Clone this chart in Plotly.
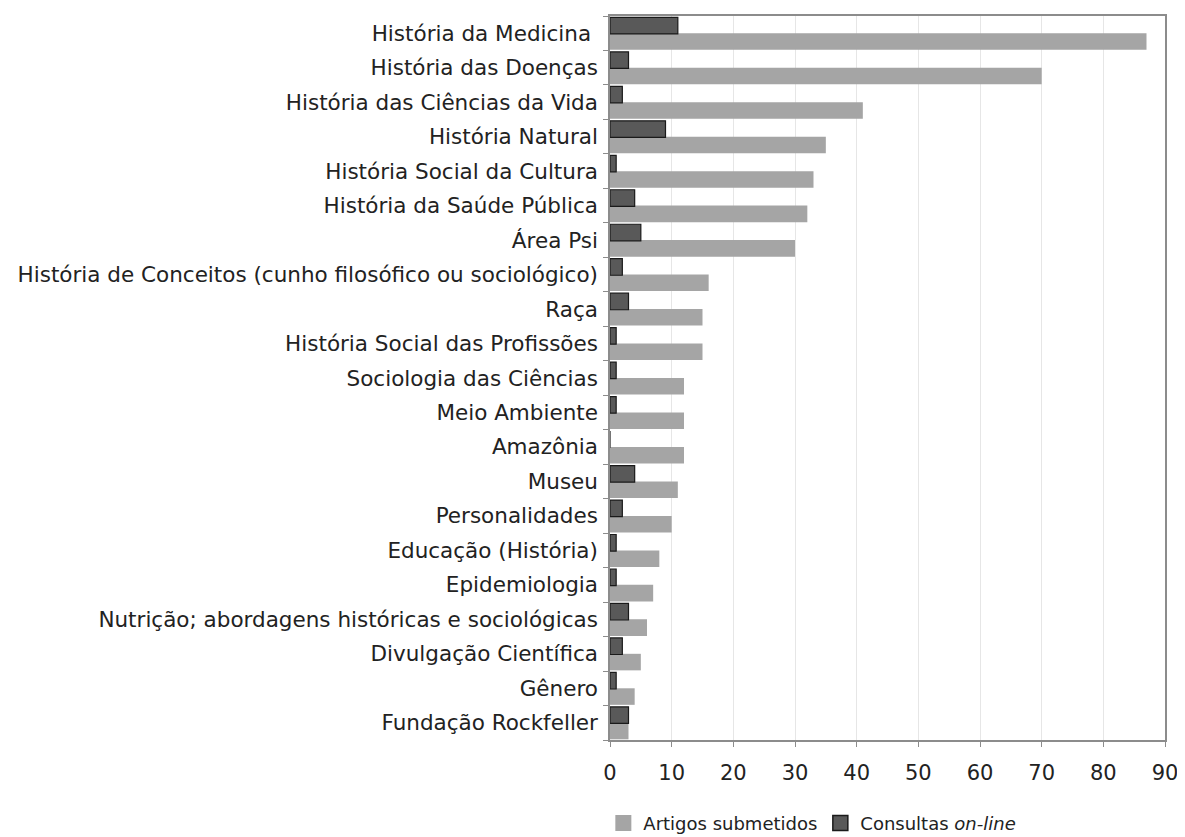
import plotly.graph_objects as go

categories = [
    "História da Medicina",
    "História das Doenças",
    "História das Ciências da Vida",
    "História Natural",
    "História Social da Cultura",
    "História da Saúde Pública",
    "Área Psi",
    "História de Conceitos (cunho filosófico ou sociológico)",
    "Raça",
    "História Social das Profissões",
    "Sociologia das Ciências",
    "Meio Ambiente",
    "Amazônia",
    "Museu",
    "Personalidades",
    "Educação (História)",
    "Epidemiologia",
    "Nutrição; abordagens históricas e sociológicas",
    "Divulgação Científica",
    "Gênero",
    "Fundação Rockfeller",
]
artigos = [87, 70, 41, 35, 33, 32, 30, 16, 15, 15, 12, 12, 12, 11, 10, 8, 7, 6, 5, 4, 3]
consultas = [11, 3, 2, 9, 1, 4, 5, 2, 3, 1, 1, 1, 0, 4, 2, 1, 1, 3, 2, 1, 3]
x_ticks = [0, 10, 20, 30, 40, 50, 60, 70, 80, 90]
# the first label carries a trailing space in the original
y_tick_labels = [categories[0] + "\u00a0"] + categories[1:]

FONT = "DejaVu Sans"
LIGHT = "#a5a5a5"
DARK = "#595959"
EDGE = "#1a1a1a"

fig = go.Figure()
fig.add_trace(go.Bar(
    y=categories, x=artigos, orientation="h", name="Artigos submetidos",
    marker=dict(color=LIGHT, line=dict(width=0)),
    offset=0.0, width=0.48, showlegend=False,
))
fig.add_trace(go.Bar(
    y=categories, x=consultas, orientation="h", name="Consultas <i>on-line</i>",
    marker=dict(color=DARK, line=dict(color=EDGE, width=1.2)),
    offset=-0.46, width=0.48, showlegend=False,
))
# legend entries with larger square swatches
fig.add_trace(go.Scatter(
    x=[None], y=[None], mode="markers", name="Artigos submetidos",
    marker=dict(symbol="square", size=16, color=LIGHT, line=dict(width=0)),
))
fig.add_trace(go.Scatter(
    x=[None], y=[None], mode="markers", name="Consultas <i>on-line</i>",
    marker=dict(symbol="square", size=15, color=DARK, line=dict(color=EDGE, width=1.5)),
))

fig.update_layout(
    width=1177, height=829,
    barmode="overlay",
    plot_bgcolor="white", paper_bgcolor="white",
    margin=dict(l=602, r=20, t=8, b=97, autoexpand=False),
    font=dict(family=FONT, size=20, color="#222"),
    showlegend=True,
    legend=dict(orientation="h", x=-0.012, y=-0.115, xanchor="left", yanchor="middle",
                font=dict(size=18, color="#222"), itemwidth=30, traceorder="normal",
                entrywidth=172, entrywidthmode="pixels", itemsizing="trace"),
)
fig.update_xaxes(
    range=[0, 90], tickvals=x_ticks, ticktext=[str(v) for v in x_ticks],
    showgrid=True, gridcolor="#e6e6e6", gridwidth=1,
    showline=True, linecolor="#8c8c8c", linewidth=1.5, mirror=True,
    ticks="outside", ticklen=5, tickcolor="#8c8c8c", ticklabelstandoff=8,
    zeroline=False, tickfont=dict(size=21), automargin=False,
)
fig.update_yaxes(
    categoryorder="array", categoryarray=categories, autorange="reversed",
    tickvals=categories, ticktext=y_tick_labels,
    showline=True, linecolor="#8c8c8c", linewidth=1.5, mirror=True,
    ticks="outside", ticklen=5, tickcolor="#8c8c8c", tickson="boundaries",
    ticklabelstandoff=6,
    showgrid=False, tickfont=dict(size=21.5), automargin=False,
)

fig.write_html("out.html")
